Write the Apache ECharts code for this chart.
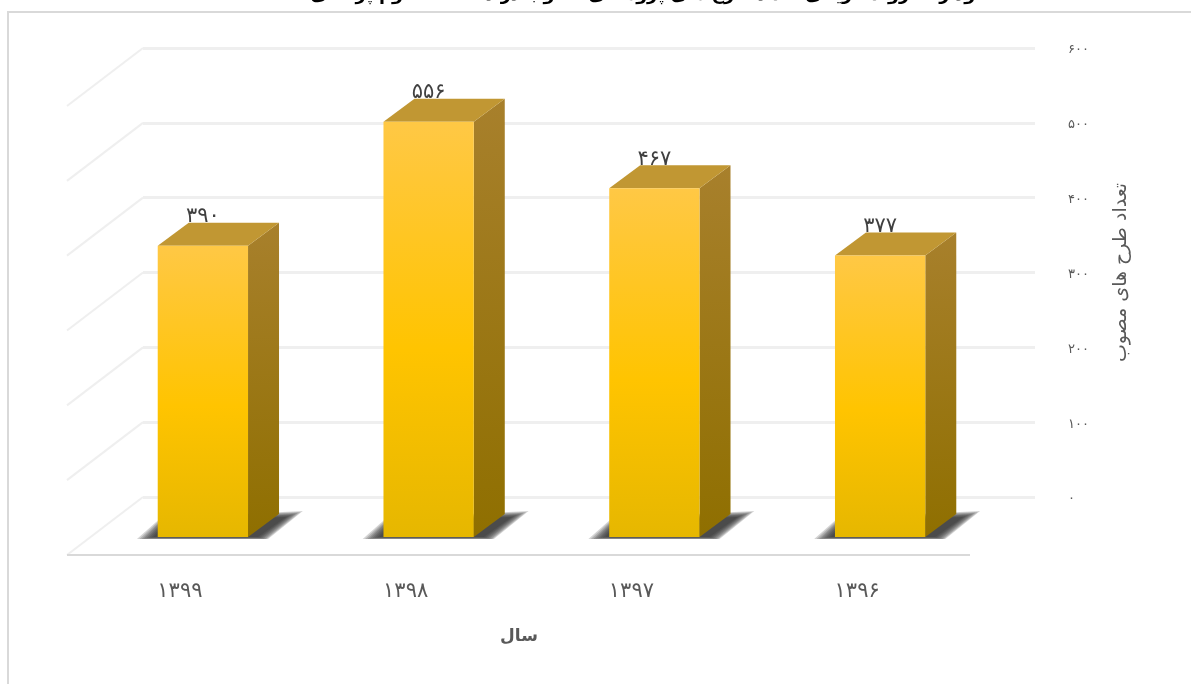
<!DOCTYPE html>
<html><head><meta charset="utf-8">
<style>html,body{margin:0;padding:0;background:#fff;overflow:hidden}#c{width:1191px;height:684px}</style>
<script src="https://cdn.jsdelivr.net/npm/echarts@6/dist/echarts.min.js"></script>
</head><body><div id="c"></div>
<script>
const categories = ['۱۳۹۹','۱۳۹۸','۱۳۹۷','۱۳۹۶'];
const values = [390, 556, 467, 377];
const valueLabels = ['۳۹۰','۵۵۶','۴۶۷','۳۷۷'];
const ticks = [0, 100, 200, 300, 400, 500, 600];
const tickLabels = ['۰','۱۰۰','۲۰۰','۳۰۰','۴۰۰','۵۰۰','۶۰۰'];
const titleText = 'نمودار ۱- روند تاریخی تعداد طرح های پژوهشی مصوب در دانشگاه علوم پزشکی';
const yName = 'تعداد طرح های مصوب';
const xName = 'سال';

const FONT = '"DejaVu Sans", sans-serif';
const DX = 31, DY = 23;
const grad = (stops) => new echarts.graphic.LinearGradient(0, 0, 0, 1, stops.map(s => ({offset: s[0], color: s[1]})));

function renderBar(params, api) {
  const i = api.value(0), v = api.value(1);
  const top = api.coord([i, v]), base = api.coord([i, 0]);
  const w = api.size([1, 0])[0] * 0.4;
  const l = top[0] - w / 2, r = top[0] + w / 2, t = top[1], b = base[1];
  const poly = (pts, fill) => ({type: 'polygon', shape: {points: pts}, style: {fill}});
  const shadow = [];
  for (let k = 7; k >= 0; k--) {
    const g = k * 2.4;
    shadow.push(poly([[l - 4 - g, b + Math.min(k * 0.4, 2)], [l + 8 - g * 0.3, b - 14 - g * 0.3], [r + 38 + g, b - 20 - g * 0.35], [r + 10 + g * 0.6, b + Math.min(k * 0.4, 2)]], 'rgba(40,40,40,0.2)'));
  }
  return {type: 'group', children: shadow.concat([
    {type: 'text', x: top[0], y: t - 29, style: {text: valueLabels[i], fill: '#404040', font: '21px ' + FONT, align: 'center', verticalAlign: 'middle'}},
    poly([[r, t], [r + DX, t - DY], [r + DX, b - DY], [r, b]], grad([[0, '#A8802C'], [1, '#8F6F00']])),
    poly([[l, t], [l + DX, t - DY], [r + DX, t - DY], [r, t]], '#C19733'),
    {type: 'rect', shape: {x: l, y: t, width: w, height: b - t},
     style: {fill: grad([[0, '#FFC845'], [0.55, '#FFC400'], [1, '#E6B700']])}}
  ])};
}

function renderWall(params, api) {
  const p = api.coord([0, api.value(1)]);
  const x0 = p[0] - 76, y0 = p[1] + 58;
  const children = [{type: 'line', shape: {x1: p[0], y1: p[1], x2: x0, y2: y0}, style: {stroke: '#efefef', lineWidth: 2}}];
  if (api.value(1) === 0) children.push({type: 'line', shape: {x1: x0, y1: y0, x2: x0 + 903, y2: y0}, style: {stroke: '#d9d9d9', lineWidth: 2}});
  return {type: 'group', children};
}

const chart = echarts.init(document.getElementById('c'), null, {renderer: 'canvas'});
chart.setOption({
  animation: false,
  backgroundColor: '#fff',
  graphic: [
    {type: 'rect', z: 0, shape: {x: 8, y: 12, width: 1400, height: 900}, style: {fill: '#fff', stroke: '#d9d9d9', lineWidth: 2}},
    {type: 'text', z: 10, x: 652, y: -5, style: {text: titleText, fill: '#000', font: 'bold 17.5px ' + FONT, align: 'center', verticalAlign: 'middle'}},
    {type: 'text', z: 10, x: 519, y: 637, style: {text: xName, fill: '#595959', font: 'bold 17px ' + FONT, align: 'center', verticalAlign: 'middle'}}
  ],
  grid: [
    {left: 143, right: 156, top: 48, bottom: 187},
    {left: 90, width: 903, top: 89, bottom: 147},
    {left: 67, width: 903, top: 89, bottom: 147}
  ],
  xAxis: [
    {type: 'value', gridIndex: 0, min: 0, max: 1, show: false},
    {type: 'category', gridIndex: 1, data: categories, show: false},
    {type: 'category', gridIndex: 2, data: categories, axisLine: {show: false}, axisTick: {show: false},
     axisLabel: {color: '#595959', fontSize: 21, fontFamily: FONT, margin: 44}}
  ],
  yAxis: [
    {type: 'value', gridIndex: 0, position: 'right', min: 0, max: 600, interval: 100,
     axisLine: {show: false}, axisTick: {show: false},
     splitLine: {show: true, lineStyle: {color: '#efefef', width: 3}},
     axisLabel: {color: '#595959', fontSize: 13, fontFamily: FONT, margin: 33, verticalAlign: 'top', lineHeight: 4,
       formatter: v => tickLabels[ticks.indexOf(v)]},
     name: yName, nameLocation: 'middle', nameRotate: 90, nameGap: 77,
     nameTextStyle: {color: '#595959', fontSize: 19, fontFamily: FONT}},
    {type: 'value', gridIndex: 1, min: 0, max: 600, interval: 100, show: false},
    {type: 'value', gridIndex: 2, min: 0, max: 600, interval: 100, show: false}
  ],
  series: [
    {type: 'custom', xAxisIndex: 0, yAxisIndex: 0, clip: false, silent: true, z: 1,
     renderItem: renderWall, data: ticks.map(t => [0, t]), encode: {x: 0, y: 1}},
    {type: 'custom', xAxisIndex: 1, yAxisIndex: 1, clip: false, z: 3,
     renderItem: renderBar, data: values.map((v, i) => [i, v]), encode: {x: 0, y: 1}}
  ]
});
</script></body></html>
